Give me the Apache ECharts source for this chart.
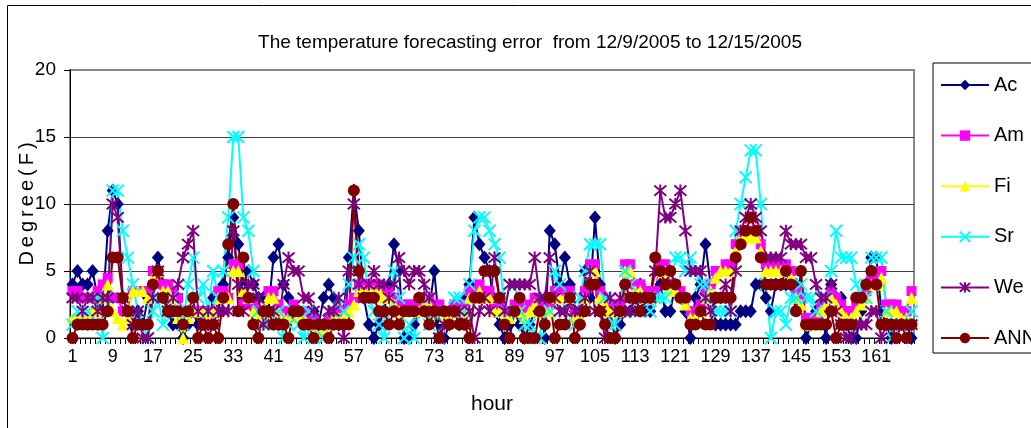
<!DOCTYPE html>
<html>
<head>
<meta charset="utf-8">
<script src="https://cdn.jsdelivr.net/npm/echarts@6/dist/echarts.min.js"></script>
<style>
  html, body { margin: 0; padding: 0; background: #fff; }
  #chart { width: 1031px; height: 428px; }
</style>
</head>
<body>
<div id="chart"></div>
<script>
// Hourly forecast error (degrees F), 12/9/2005 - 12/15/2005, 168 hours
const hours = Array.from({ length: 168 }, (_, i) => String(i + 1));
const yTicks = { min: 0, max: 20, interval: 5 };

const ac = [
  4, 5, 4, 4, 5, 3, 2, 8, 11, 10,
  3, 2, 1, 2, 1, 3, 4, 6, 4, 2,
  1, 1, 0, 1, 2, 1, 2, 1, 3, 2,
  4, 6, 9, 7, 4, 5, 4, 3, 3, 2,
  6, 7, 4, 3, 2, 2, 1, 1, 2, 1,
  3, 4, 3, 1, 2, 6, 11, 8, 3, 1,
  0, 1, 2, 4, 7, 5, 0, 0, 1, 2,
  3, 2, 5, 1, 0, 1, 2, 1, 3, 4,
  9, 7, 6, 5, 2, 1, 0, 1, 2, 1,
  0, 1, 2, 3, 0, 8, 7, 4, 6, 4,
  2, 1, 5, 3, 9, 4, 3, 2, 0, 1,
  2, 2, 3, 4, 2, 2, 3, 4, 2, 2,
  4, 3, 2, 0, 3, 4, 7, 4, 1, 1,
  1, 1, 1, 2, 2, 2, 4, 4, 3, 2,
  4, 4, 4, 4, 4, 3, 0, 1, 2, 2,
  0, 4, 3, 3, 1, 0, 0, 2, 4, 6,
  6, 2, 1, 0, 1, 1, 1, 0
];

const am = [
  3.5, 3.5, 3, 3, 3, 3.5, 4, 4.5, 3, 3,
  2, 2, 3.5, 3.5, 3.5, 3.5, 5, 5, 4, 4,
  3.5, 3, 2, 2, 2, 2, 2, 2, 2, 3.5,
  3.5, 3, 5.5, 5.5, 2.5, 2.5, 2.5, 2, 2, 3.5,
  3.5, 2.5, 2, 2, 2.5, 2, 2, 1.5, 1.5, 1,
  1, 1.5, 2, 2, 2, 2.5, 3, 4, 4, 4,
  4, 4, 3.5, 3.5, 3, 2.5, 2.5, 2.5, 2.5, 2.5,
  3, 3, 2.5, 2.5, 2, 2, 2.5, 2.5, 2.5, 3.5,
  3.5, 4, 3.5, 3.5, 2.5, 2.5, 2, 2, 2.5, 2.5,
  2, 2.5, 3, 2.5, 2.5, 2.5, 3.5, 3.5, 3.5, 3.5,
  2, 2, 3.5, 5.5, 5.5, 3.5, 3, 2.5, 2.5, 2.5,
  5.5, 5.5, 4, 4, 3.5, 3.5, 3.5, 5.5, 5.5, 4,
  4, 3.5, 3, 2, 2, 2.5, 3.5, 4, 5, 5,
  5.5, 5.5, 7, 8, 8, 8, 8, 7, 5.5, 5.5,
  5.5, 5.5, 5.5, 5, 3.5, 3, 1.5, 1.5, 1.5, 2.5,
  3, 3.5, 3, 2.5, 2, 2, 2.5, 3, 3.5, 4.5,
  4.5, 5, 2.5, 2.5, 2.5, 2, 2, 3.5
];

const fi = [
  1.5, 1.5, 1.5, 1.5, 2, 2, 3, 4, 2, 1.5,
  1, 1.5, 3.5, 3.5, 3.5, 3, 4.5, 5, 3.5, 3.5,
  3, 1.5, 0, 1.5, 2, 2, 2, 1.5, 2, 3,
  3, 3, 5, 5, 3.5, 3, 2, 1.5, 2, 3,
  3, 2, 1.5, 1.5, 2, 1.5, 1.5, 1, 1, 0.5,
  0.5, 1, 1.5, 1.5, 1.5, 2, 2.5, 3.5, 3.5, 3.5,
  3.5, 3.5, 3, 3, 2.5, 2, 2, 2, 2, 2,
  2.5, 2.5, 2, 2, 1.5, 1.5, 2, 2, 2, 3,
  3, 3.5, 3, 3, 2, 2, 1.5, 1.5, 2, 2,
  1.5, 2, 2.5, 2, 2, 2, 3, 3, 3, 3,
  1.5, 1.5, 3, 5, 5, 3, 2.5, 2, 2, 2,
  5, 5, 3.5, 3.5, 3, 3, 3, 5, 5, 3.5,
  3.5, 3, 2.5, 1.5, 1.5, 2, 3, 3.5, 4.5, 5,
  5, 5, 6.5, 7.5, 7.5, 7.5, 7.5, 6.5, 5, 5,
  5, 5, 5, 4.5, 3, 2.5, 1, 1, 1, 2,
  2.5, 3, 2.5, 2, 1.5, 1.5, 2, 2.5, 3, 4,
  4, 4.5, 2, 2, 2, 1.5, 1.5, 3
];

const sr = [
  1, 2, 1, 2, 1, 3, 0, 3, 11, 11,
  8, 6, 4, 2, 1, 0, 2, 3, 1, 2,
  3, 2, 1, 4, 6, 3, 4, 2, 5, 3,
  5, 9, 15, 15, 9, 8, 5, 2, 1, 1,
  1, 2, 0, 1, 2, 1, 0, 2, 1, 1,
  0, 1, 2, 3, 2, 4, 6, 7, 6, 3,
  2, 1, 0, 2, 5, 3, 0, 1, 0, 2,
  3, 1, 2, 0, 1, 2, 3, 3, 2, 4,
  8, 9, 9, 8, 7, 6, 2, 4, 4, 2,
  1, 1, 0, 0, 3, 2, 5, 4, 2, 3,
  1, 3, 5, 7, 7, 7, 3, 1, 1, 2,
  5, 4, 3, 2, 3, 2, 3, 3, 3, 4,
  6, 6, 5, 6, 5, 4, 4, 3, 2, 2,
  2, 2, 8, 10, 12, 14, 14, 10, 4, 0,
  2, 2, 1, 3, 3, 4, 3, 3, 2, 3,
  3, 5, 8, 6, 6, 6, 4, 3, 3, 6,
  6, 6, 2, 0, 1, 1, 1, 2
];

const we = [
  3, 3, 2, 3, 3, 2, 3, 3, 10, 9,
  3, 2, 1, 2, 0, 0, 3, 5, 3, 2,
  3, 4, 6, 7, 8, 2, 1, 2, 1, 2,
  2, 2, 8, 4, 2, 4, 4, 3, 1, 2,
  2, 1, 4, 6, 5, 5, 3, 3, 2, 1,
  1, 2, 2, 3, 0, 5, 10, 4, 3, 4,
  5, 4, 4, 3, 4, 6, 5, 4, 5, 5,
  4, 3, 2, 0, 1, 2, 2, 2, 1, 2,
  0, 2, 3, 2, 6, 3, 2, 4, 4, 4,
  4, 4, 6, 3, 3, 6, 3, 2, 2, 3,
  2, 2, 3, 5, 2, 2, 0, 3, 2, 3,
  2, 2, 3, 2, 3, 3, 5, 11, 9, 9,
  10, 11, 8, 5, 5, 5, 3, 2, 3, 3,
  4, 2, 5, 8, 9, 10, 9, 8, 6, 6,
  6, 6, 8, 7, 7, 7, 6, 6, 4, 3,
  3, 4, 2, 1, 0, 0, 1, 1, 1, 2,
  2, 0, 1, 1, 1, 1, 1, 1
];

const ann = [
  0, 1, 1, 1, 1, 1, 1, 2, 6, 6,
  3, 2, 0, 1, 1, 1, 4, 5, 3, 2,
  2, 2, 1, 2, 3, 0, 1, 0, 1, 0,
  3, 7, 10, 2, 6, 3, 1, 0, 2, 2,
  1, 1, 1, 0, 2, 2, 1, 1, 0, 1,
  1, 0, 1, 1, 1, 1, 11, 5, 3, 3,
  3, 2, 2, 1, 2, 1, 2, 2, 2, 3,
  2, 1, 2, 0, 2, 1, 2, 1, 1, 0,
  3, 3, 5, 5, 5, 3, 1, 0, 2, 3,
  0, 0, 0, 2, 1, 3, 0, 1, 1, 3,
  0, 1, 2, 4, 4, 2, 1, 0, 0, 2,
  4, 3, 3, 2, 3, 3, 6, 5, 4, 5,
  4, 3, 3, 1, 1, 2, 1, 1, 3, 3,
  3, 3, 6, 7, 8, 9, 8, 6, 4, 4,
  4, 4, 5, 4, 2, 5, 1, 1, 1, 1,
  1, 2, 0, 1, 1, 1, 3, 3, 4, 5,
  4, 1, 1, 1, 0, 1, 0, 1
];

const FONT = "'Liberation Sans', Arial, sans-serif";

const crossPath = 'path://M0,0L12,12M12,0L0,12';
const starPath = 'path://M0,0L12,12M12,0L0,12M6,-1L6,13';

function lineSeries(name, data, color, symbol, size, stroke) {
  return {
    name: name,
    type: 'line',
    data: data,
    symbol: symbol,
    symbolSize: size,
    showAllSymbol: true,
    animation: false,
    lineStyle: { color: color, width: 2 },
    itemStyle: stroke
      ? { color: 'rgba(0,0,0,0)', borderColor: color, borderWidth: 2 }
      : { color: color, borderWidth: 0 },
    emphasis: { disabled: true }
  };
}

const chart = echarts.init(document.getElementById('chart'), null, { renderer: 'canvas' });

chart.setOption({
  backgroundColor: '#fff',
  animation: false,
  textStyle: { fontFamily: FONT, color: '#000' },
  title: {
    text: 'The temperature forecasting error  from 12/9/2005 to 12/15/2005',
    left: 530,
    top: 33,
    padding: 0,
    textAlign: 'center',
    textStyle: { fontFamily: FONT, fontSize: 19, fontWeight: 'normal', color: '#000' }
  },
  legend: {
    orient: 'vertical',
    left: 933,
    top: 63,
    itemWidth: 48,
    itemHeight: 13,
    itemGap: 30.6,
    padding: [12, 80, 5, 7],
    borderColor: '#000',
    borderWidth: 1,
    textStyle: { fontFamily: FONT, fontSize: 20, lineHeight: 20, color: '#000' },
    data: ['Ac', 'Am', 'Fi', 'Sr', 'We', 'ANN']
  },
  grid: {
    left: 70,
    right: 117,
    top: 70,
    bottom: 90,
    outerBoundsMode: 'none',
    containLabel: false,
    show: true,
    borderColor: '#888',
    borderWidth: 2,
    backgroundColor: '#fff'
  },
  xAxis: {
    type: 'category',
    data: hours,
    boundaryGap: true,
    name: 'hour',
    nameLocation: 'middle',
    nameGap: 56,
    nameMoveOverlap: false,
    nameTextStyle: { fontFamily: FONT, fontSize: 21, color: '#000' },
    axisLine: { lineStyle: { color: '#000', width: 1 } },
    axisTick: { show: true, interval: 0, length: 6, lineStyle: { color: '#000' } },
    axisLabel: { interval: 7, margin: 10, fontFamily: FONT, fontSize: 18, color: '#000' },
    splitLine: { show: false }
  },
  yAxis: {
    type: 'value',
    min: yTicks.min,
    max: yTicks.max,
    interval: yTicks.interval,
    name: 'D\u2009e\u2009g\u2009r\u2009e\u2009e\u2009(\u2009F\u2009)',
    nameLocation: 'middle',
    nameRotate: 90,
    nameGap: 33,
    nameMoveOverlap: false,
    nameTextStyle: { fontFamily: FONT, fontSize: 20, color: '#000' },
    axisLine: { show: true, lineStyle: { color: '#000', width: 1 } },
    axisTick: { show: true, length: 6, lineStyle: { color: '#000' } },
    axisLabel: { margin: 14, fontFamily: FONT, fontSize: 19, color: '#000' },
    splitLine: { show: true, lineStyle: { color: ['#000', '#404040', '#404040', '#404040', '#888'], width: 1 } }
  },
  graphic: [{
    type: 'rect',
    silent: true,
    shape: { x: 7.5, y: 5.5, width: 1100, height: 500 },
    style: { fill: 'none', stroke: '#000', lineWidth: 1 },
    z: -1
  }],
  series: [
    lineSeries('Ac', ac, '#000080', 'diamond', [12, 14], false),
    lineSeries('Am', am, '#FF00FF', 'rect', 10, false),
    lineSeries('Fi', fi, '#FFFF00', 'triangle', 12, false),
    lineSeries('Sr', sr, '#00FFFF', crossPath, 12, true),
    lineSeries('We', we, '#800080', starPath, 12, true),
    lineSeries('ANN', ann, '#800000', 'circle', 12, false)
  ]
});
</script>
</body>
</html>
